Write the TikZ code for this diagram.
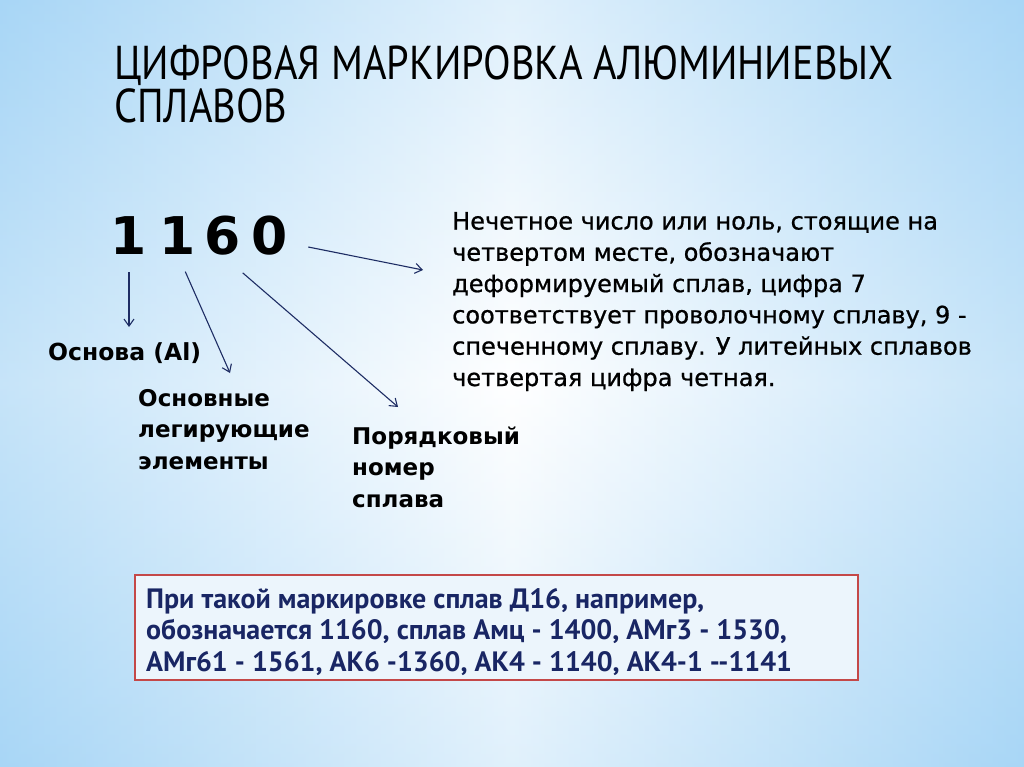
\documentclass[tikz,border=0pt]{standalone}
\usepackage{fontspec}
\setmainfont{DejaVu Sans}
\newfontfamily\titlefont[FakeStretch=0.85]{PT Sans}
\newfontfamily\notefont{PT Sans}
\newfontfamily\chetfont[FakeBold=0.8]{DejaVu Sans}
\usetikzlibrary{arrows.meta}

\definecolor{bgblue}{RGB}{168,214,246}
\definecolor{arrblue}{RGB}{30,45,100}
\definecolor{boxred}{RGB}{196,72,72}
\definecolor{boxfill}{RGB}{236,245,252}
\definecolor{notecol}{RGB}{25,38,100}

\begin{document}
\begin{tikzpicture}[x=1pt, y=-1pt,
    txt/.style={anchor=base west, align=left, inner sep=0pt},
    lbl/.style={txt, font=\fontsize{23}{31.3}\selectfont\bfseries},
    digit/.style={inner sep=0pt, font=\fontsize{52}{52}\selectfont\bfseries},
    arr/.style={draw=arrblue, line width=1.1pt, -{Straight Barb[length=7pt, width=10pt]}}]
    \useasboundingbox (0,0) rectangle (1024,767);
    % background
    \shade[left color=bgblue, right color=bgblue, middle color=white] (0,0) rectangle (1024,767);
    \shade[top color=bgblue, bottom color=bgblue, middle color=white, opacity=0.35] (0,0) rectangle (1024,767);

    % title (base = last line)
    \node[txt, font=\titlefont\fontsize{47.5}{43}\selectfont] (title) at (114,123)
        {ЦИФРОВАЯ МАРКИРОВКА АЛЮМИНИЕВЫХ\\СПЛАВОВ};

    % the number
    \node[digit] (d1) at (129,236) {1};
    \node[digit] (d2) at (178,236) {1};
    \node[digit] (d3) at (223,236) {6};
    \node[digit] (d4) at (270,236) {0};

    % labels
    \node[lbl, font=\fontsize{23.5}{31.3}\selectfont\bfseries] (osnova) at (48,360) {Основа (Al)};
    \node[lbl] (legir) at (138,469) {Основные\\легирующие\\элементы};
    \node[lbl] (nomer) at (352,507) {Порядковый\\номер\\сплава};
    \node[txt, font=\chetfont\fontsize{24}{31.3}\selectfont] (chet) at (452,386)
        {Нечетное число или ноль, стоящие на\\четвертом месте, обозначают\\деформируемый сплав, цифра 7\\соответствует проволочному сплаву, 9 -\\спеченному сплаву. У литейных сплавов\\четвертая цифра четная.};

    \coordinate (e1) at (129,327);
    \coordinate (e2) at (230,373);
    \coordinate (e3) at (398,407);
    \coordinate (e4) at (423,270);

    \draw[arr, shorten <=17pt] (d1.south) -- (e1);
    \draw[arr, shorten <=18pt] (d2.south) -- (e2);
    \draw[arr, shorten <=26pt] (d3.south) -- (e3);
    \draw[arr] ([shift={(20,11)}]d4.east) -- (e4);

    % example box
    \draw[boxred, line width=1.2pt, fill=boxfill] (135,575) rectangle (858,680);
    \node[txt, text=notecol, font=\notefont\bfseries\fontsize{28}{31.3}\selectfont] (note) at (146,671)
        {При такой маркировке сплав Д16, например,\\обозначается 1160, сплав Амц - 1400, АМг3 - 1530,\\АМг61 - 1561, АК6 -1360, АК4 - 1140, АК4-1 --1141};
\end{tikzpicture}
\end{document}
